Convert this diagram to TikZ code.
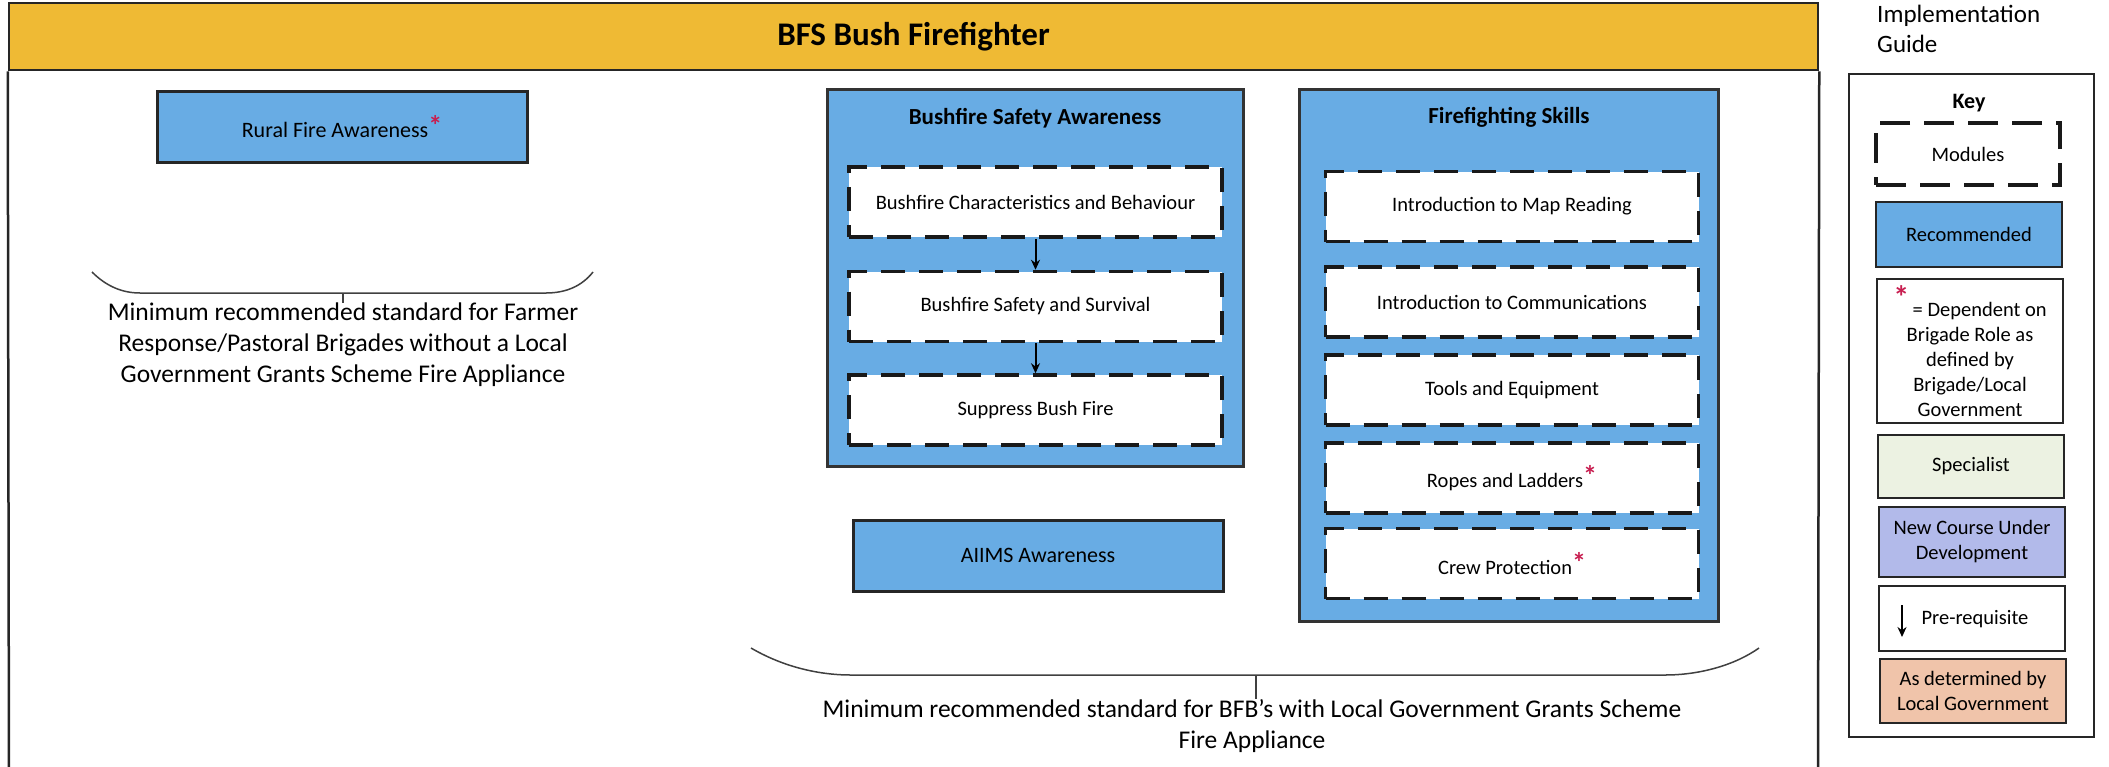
\documentclass[tikz,border=0pt]{standalone}
\usepackage{fontspec}
\setmainfont{Carlito}
\usetikzlibrary{positioning}
\usetikzlibrary{arrows.meta}

\newcommand{\depstar}{\raisebox{2pt}{\textcolor{starred}{\fontsize{28}{28}\selectfont\bfseries *}}}

\begin{document}
\begin{tikzpicture}
            [x=1pt, y=-1pt,
            frame/.style={line width=2.5pt, draw=black!85},
            header/.style={frame, fill=headyellow, inner sep=0pt, font=\fontsize{33}{38}\selectfont\bfseries},
            course/.style={draw=black!85, line width=3pt, fill=recblue, inner sep=0pt,
                minimum width=370pt, minimum height=71pt, font=\fontsize{22}{26}\selectfont},
            group/.style={draw=black!80, line width=3pt, fill=recblue, inner sep=0pt},
            grouptitle/.style={inner sep=0pt, font=\fontsize{23}{27}\selectfont\bfseries},
            module/.style={draw=black!90, line width=3.5pt, dash pattern=on 24pt off 14pt,
                fill=white, inner sep=0pt, minimum width=373pt, minimum height=70pt,
                font=\fontsize{20.5}{24}\selectfont},
            keyitem/.style={draw=black!85, line width=2.5pt, inner sep=0pt, minimum width=186pt,
                align=center, font=\fontsize{20.5}{25}\selectfont},
            brace/.style={line width=1.5pt, draw=black!75},
            note/.style={anchor=north, align=center, inner sep=0pt, font=\fontsize{25.5}{31}\selectfont},
            prereq/.style={-{Stealth[length=10pt,width=9pt]}, line width=2pt},
            ]
            \definecolor{headyellow}{RGB}{239,186,52}
            \definecolor{recblue}{RGB}{104,172,228}
            \definecolor{specgreen}{RGB}{236,242,226}
            \definecolor{newblue}{RGB}{178,186,234}
            \definecolor{localpeach}{RGB}{240,196,170}
            \definecolor{starred}{RGB}{200,30,80}
            \useasboundingbox (0,0) rectangle (2109,766);

            % frame and title bar
            \node[header, minimum width=1809pt, minimum height=67pt] (title) at (913.5,36.5) {BFS Bush Firefighter};
            \draw[frame] (title.south west) -- (9,790);
            \draw[frame] (title.south east) -- (1818,790);

            % farmer response / pastoral
            \node[course] (rural) at (342,127) {Rural Fire Awareness\depstar};
            \draw[brace] (92,272) .. controls (106,286) and (122,293) .. (140,293)
                -- (546,293) .. controls (566,293) and (582,286) .. (593,272);
            \coordinate (farmtick) at (343,293);
            \node[note] (farmnote) at (343,303) {Minimum recommended standard for Farmer\\
                Response/Pastoral Brigades without a Local\\
                Government Grants Scheme Fire Appliance};
            \draw[brace] (farmtick) -- (farmnote.north);

            % bushfire safety awareness
            \node[group, minimum width=416pt, minimum height=377pt] (bsa) at (1035,277.5) {};
            \node[grouptitle] (bsatitle) at (1035,118) {Bushfire Safety Awareness};
            \node[module] (bsa1) at (1035.5,202) {Bushfire Characteristics and Behaviour};
            \node[module] (bsa2) at (1035.5,306.5) {Bushfire Safety and Survival};
            \node[module] (bsa3) at (1035.5,410) {Suppress Bush Fire};
            \draw[prereq] (bsa1) -- (bsa2);
            \draw[prereq] (bsa2) -- (bsa3);

            \node[course] (aiims) at (1038,555.5) {AIIMS Awareness};

            % firefighting skills
            \node[group, minimum width=419pt, minimum height=532pt] (ffs) at (1508.5,355) {};
            \node[grouptitle] (ffstitle) at (1509,117) {Firefighting Skills};
            \node[module] (ffs1) at (1512,206.5) {Introduction to Map Reading};
            \node[module] (ffs2) at (1512,302) {Introduction to Communications};
            \node[module] (ffs3) at (1512,390) {Tools and Equipment};
            \node[module] (ffs4) at (1512,478) {Ropes and Ladders\depstar};
            \node[module] (ffs5) at (1512,563.5) {Crew Protection\depstar};

            \draw[brace] (751,648) .. controls (780,665) and (815,675) .. (851,675)
                -- (1665,675) .. controls (1700,675) and (1735,665) .. (1759,648);
            \coordinate (bfbtick) at (1256,675);
            \node[note] (bfbnote) at (1252,699) {Minimum recommended standard for BFB’s with Local Government Grants Scheme\\
                Fire Appliance};
            \draw[brace] (bfbtick) -- (bfbtick |- bfbnote.north);

            % key
            \node[anchor=north west, align=left, inner sep=0pt, font=\fontsize{25}{30}\selectfont] (guide) at (1877,5) {Implementation\\Guide};
            \node[frame, fill=white, minimum width=245pt, minimum height=663pt] (key) at (1971.5,405.5) {};
            \node[inner sep=0pt, font=\fontsize{22}{26}\selectfont\bfseries] (keytitle) at (1969,103) {Key};
            \node[module, line width=3.5pt, dash pattern=on 30pt off 14pt, minimum width=184pt, minimum height=62pt,
                font=\fontsize{20.5}{25}\selectfont] (keymod) at (1968,154) {Modules};
            \node[keyitem, fill=recblue, minimum height=65pt] (keyrec) at (1969,234.5) {Recommended};
            \node[keyitem, minimum height=144pt] (keydep) at (1970,351)
                {\raisebox{8pt}{\textcolor{starred}{\fontsize{32}{32}\selectfont\bfseries *}}\,= Dependent on\\
                Brigade Role as\\defined by\\Brigade/Local\\Government};
            \node[keyitem, fill=specgreen, minimum height=63pt] (keyspec) at (1971,466.5) {Specialist};
            \node[keyitem, fill=newblue, minimum height=70pt] (keynew) at (1972,542) {New Course Under\\Development};
            \node[keyitem, minimum height=65pt] (keypre) at (1972,618.5) {};
            \node[inner sep=0pt, font=\fontsize{20.5}{25}\selectfont] (pretext) at (1975,619) {Pre-requisite};
            \coordinate (prea) at (1902,605);
            \coordinate (preb) at (1902,637);
            \draw[prereq] (prea) -- (preb);
            \node[keyitem, fill=localpeach, minimum height=64pt] (keyloc) at (1973,691) {As determined by\\Local Government};
\end{tikzpicture}
\end{document}
